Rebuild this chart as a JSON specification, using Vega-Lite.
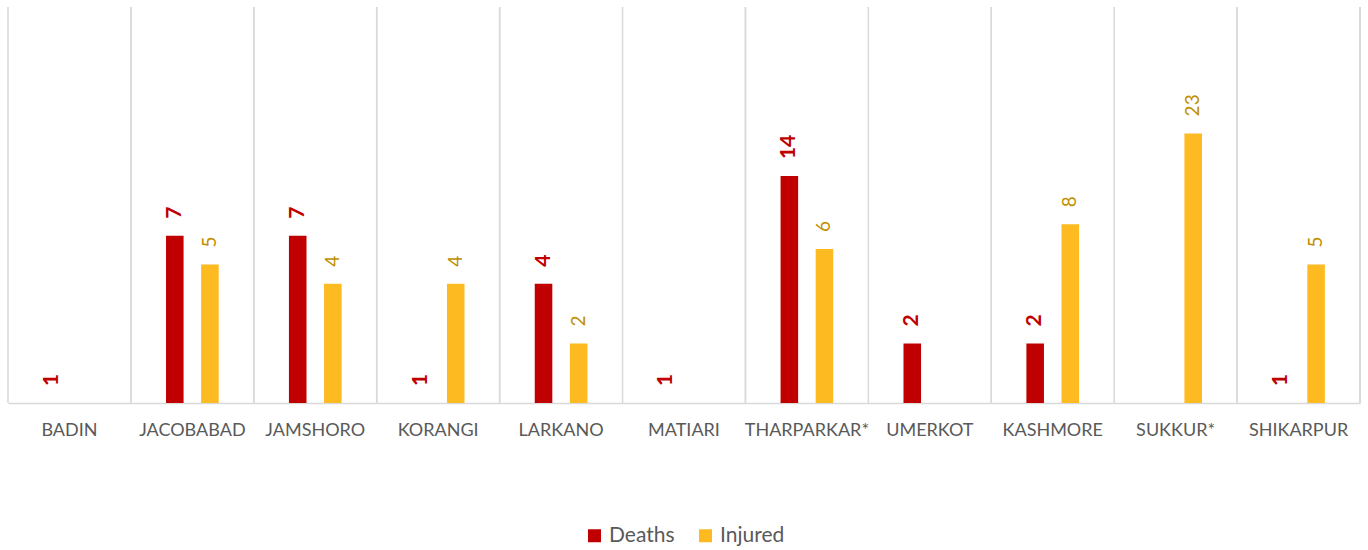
{
  "$schema": "https://vega.github.io/schema/vega-lite/v6.json",
  "width": 1352,
  "height": 396,
  "autosize": {"type": "none"},
  "padding": {"left": 8, "top": 7, "right": 8, "bottom": 147},
  "background": "white",
  "config": {"view": {"stroke": null}, "font": "Lato"},
  "data": {
    "values": [
      {"district": "Badin", "series": "Deaths", "value": 1},
      {"district": "Jacobabad", "series": "Deaths", "value": 7},
      {"district": "Jacobabad", "series": "Injured", "value": 5},
      {"district": "Jamshoro", "series": "Deaths", "value": 7},
      {"district": "Jamshoro", "series": "Injured", "value": 4},
      {"district": "Korangi", "series": "Deaths", "value": 1},
      {"district": "Korangi", "series": "Injured", "value": 4},
      {"district": "Larkano", "series": "Deaths", "value": 4},
      {"district": "Larkano", "series": "Injured", "value": 2},
      {"district": "Matiari", "series": "Deaths", "value": 1},
      {"district": "Tharparkar*", "series": "Deaths", "value": 14},
      {"district": "Tharparkar*", "series": "Injured", "value": 6},
      {"district": "Umerkot", "series": "Deaths", "value": 2},
      {"district": "Kashmore", "series": "Deaths", "value": 2},
      {"district": "Kashmore", "series": "Injured", "value": 8},
      {"district": "Sukkur*", "series": "Injured", "value": 23},
      {"district": "Shikarpur", "series": "Deaths", "value": 1},
      {"district": "Shikarpur", "series": "Injured", "value": 5}
    ]
  },
  "encoding": {
    "x": {
      "field": "district",
      "type": "nominal",
      "sort": ["Badin", "Jacobabad", "Jamshoro", "Korangi", "Larkano", "Matiari", "Tharparkar*", "Umerkot", "Kashmore", "Sukkur*", "Shikarpur"],
      "scale": {"paddingInner": 0, "paddingOuter": 0},
      "axis": {
        "title": null,
        "labelAngle": 0,
        "labelExpr": "upper(datum.label)",
        "labelFont": "Lato",
        "labelFontSize": 18,
        "labelColor": "#595959",
        "labelPadding": 18,
        "ticks": false,
        "grid": false,
        "domainColor": "#d9d9d9",
        "domainWidth": 1.5
      }
    }
  },
  "layer": [
    {
      "mark": {"type": "rule", "color": "#d9d9d9", "strokeWidth": 1.5},
      "encoding": {
        "x": {
          "field": "district",
          "type": "nominal",
          "bandPosition": 0,
          "sort": ["Badin", "Jacobabad", "Jamshoro", "Korangi", "Larkano", "Matiari", "Tharparkar*", "Umerkot", "Kashmore", "Sukkur*", "Shikarpur"]
        }
      }
    },
    {
      "mark": {"type": "rule", "color": "#d9d9d9", "strokeWidth": 1.5},
      "encoding": {
        "x": {"datum": "Shikarpur", "type": "nominal", "bandPosition": 1}
      }
    },
    {
      "mark": {"type": "bar"},
      "encoding": {
        "xOffset": {
          "field": "series",
          "type": "nominal",
          "scale": {"domain": ["Deaths", "Injured"], "paddingInner": 0.5, "paddingOuter": 1.11}
        },
        "y": {
          "field": "value",
          "type": "quantitative",
          "stack": null,
          "scale": {"type": "log", "domain": [1, 100], "nice": false},
          "axis": null
        },
        "color": {
          "field": "series",
          "type": "nominal",
          "scale": {"domain": ["Deaths", "Injured"], "range": ["#C00000", "#FDBA21"]},
          "legend": {
            "title": null,
            "orient": "none",
            "direction": "horizontal",
            "legendX": 576,
            "legendY": 518,
            "symbolType": "square",
            "symbolSize": 169,
            "symbolStrokeWidth": 0,
            "symbolOpacity": 1,
            "labelFont": "Lato",
            "labelFontSize": 21,
            "labelColor": "#595959",
            "labelOffset": 4,
            "columnPadding": 20
          }
        }
      }
    },
    {
      "transform": [{"filter": "datum.series === 'Deaths'"}],
      "mark": {"type": "text", "angle": 270, "align": "left", "baseline": "middle", "dx": 17, "font": "Lato", "fontWeight": "bold", "fontSize": 21, "color": "#C00000"},
      "encoding": {
        "xOffset": {"field": "series", "type": "nominal", "scale": {"domain": ["Deaths", "Injured"], "paddingInner": 0.5, "paddingOuter": 1.11}},
        "y": {"field": "value", "type": "quantitative", "stack": null, "scale": {"type": "log", "domain": [1, 100], "nice": false}},
        "text": {"field": "value", "type": "quantitative"}
      }
    },
    {
      "transform": [{"filter": "datum.series === 'Injured'"}],
      "mark": {"type": "text", "angle": 270, "align": "left", "baseline": "middle", "dx": 17, "font": "Lato", "fontSize": 19, "color": "#BF9000"},
      "encoding": {
        "xOffset": {"field": "series", "type": "nominal", "scale": {"domain": ["Deaths", "Injured"], "paddingInner": 0.5, "paddingOuter": 1.11}},
        "y": {"field": "value", "type": "quantitative", "stack": null, "scale": {"type": "log", "domain": [1, 100], "nice": false}},
        "text": {"field": "value", "type": "quantitative"}
      }
    }
  ]
}
